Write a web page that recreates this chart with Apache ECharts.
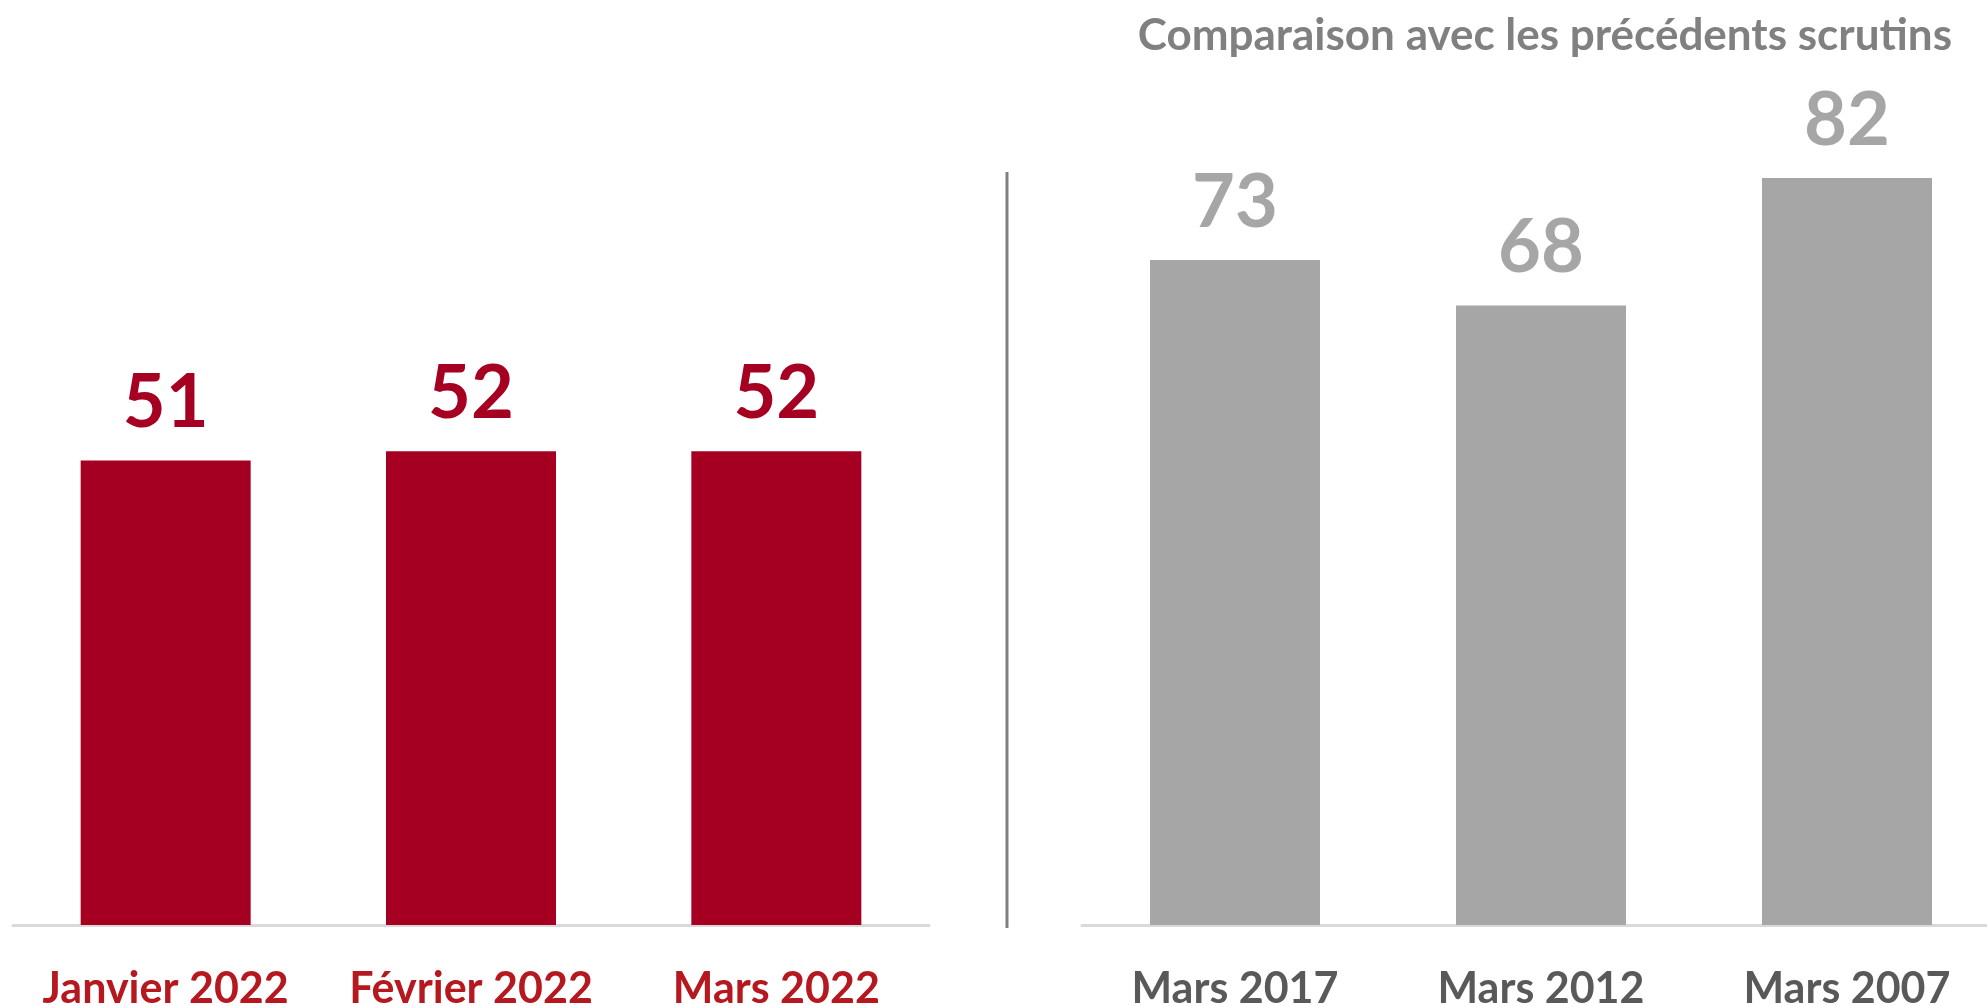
<!DOCTYPE html>
<html>
<head>
<meta charset="utf-8">
<script src="https://cdn.jsdelivr.net/npm/echarts@6/dist/echarts.min.js"></script>
<style>
  html, body { margin: 0; padding: 0; background: #fff; }
  #chart { width: 1987px; height: 1006px; }
</style>
</head>
<body>
<div id="chart"></div>
<script>
// données
const leftCategories = ['Janvier 2022', 'Février 2022', 'Mars 2022']
const leftValues = [51, 52, 52]
const rightCategories = ['Mars 2017', 'Mars 2012', 'Mars 2007']
const rightValues = [73, 68, 82]
const titleText = 'Comparaison avec les précédents scrutins'

const font = 'Lato'
const red = '#A50021'
const grey = '#A6A6A6'

const chart = echarts.init(document.getElementById('chart'))

const xAxisCommon = {
    type: 'category',
    axisTick: { show: false },
    axisLine: { lineStyle: { color: '#D9D9D9', width: 3 } }
}

const valueLabel = (color) => ({
    show: true,
    position: 'top',
    distance: 20,
    fontFamily: font,
    fontWeight: 'bold',
    fontSize: 74,
    color: color
})

chart.setOption({
    animation: false,
    title: {
        text: titleText,
        right: 30,
        top: 9,
        textStyle: { fontFamily: font, fontWeight: 'bold', fontSize: 44, color: '#808080' }
    },
    grid: [
        { left: 13, width: 916, top: 14, bottom: 81, outerBoundsMode: 'none' },
        { left: 1082, width: 918, top: 14, bottom: 81, outerBoundsMode: 'none' }
    ],
    xAxis: [
        {
            ...xAxisCommon,
            gridIndex: 0,
            data: leftCategories,
            axisLabel: { interval: 0, fontFamily: font, fontWeight: 'bold', fontSize: 43, color: '#B5191F', margin: 43 }
        },
        {
            ...xAxisCommon,
            gridIndex: 1,
            data: rightCategories,
            axisLabel: { interval: 0, fontFamily: font, fontWeight: 'bold', fontSize: 43, color: '#595959', margin: 43 }
        }
    ],
    yAxis: [
        { type: 'value', gridIndex: 0, min: 0, max: 100, show: false },
        { type: 'value', gridIndex: 1, min: 0, max: 100, show: false }
    ],
    series: [
        {
            type: 'bar',
            xAxisIndex: 0,
            yAxisIndex: 0,
            data: leftValues,
            barWidth: 170,
            itemStyle: { color: red },
            label: valueLabel(red)
        },
        {
            type: 'bar',
            xAxisIndex: 1,
            yAxisIndex: 1,
            data: rightValues,
            barWidth: 170,
            itemStyle: { color: grey },
            label: valueLabel(grey)
        }
    ],
    graphic: [
        {
            type: 'line',
            shape: { x1: 1007, y1: 172, x2: 1007, y2: 928 },
            style: { stroke: '#808080', lineWidth: 3 }
        }
    ]
})
</script>
</body>
</html>
